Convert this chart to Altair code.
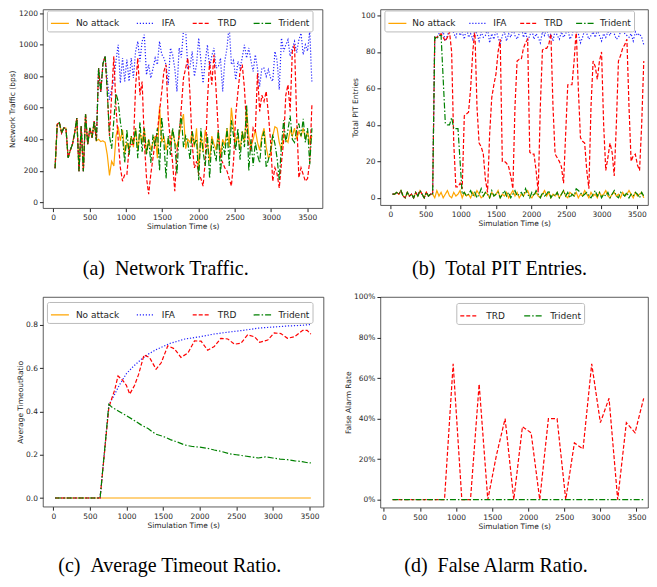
import altair as alt
import pandas as pd

SERIES = ["No attack", "IFA", "TRD", "Trident"]
COLORS = {"No attack": "#FFA500", "IFA": "#2222ff", "TRD": "#FF0000", "Trident": "#008000"}
DASHES = {"No attack": [1, 0], "IFA": [1.2, 1.8], "TRD": [4, 2], "Trident": [6, 2, 1.5, 2]}
X_TICKS = [0, 500, 1000, 1500, 2000, 2500, 3000, 3500]

# ---------------- (a) Network Traffic ----------------
a_time = list(range(25, 3566, 30))
a_common = [215, 495, 505, 440, 472, 470, 281, 330, 368, 440,
            535, 197, 482, 197, 558, 368, 472, 410, 515, 390]
a_noattack_tail = [400, 385, 390, 380, 300, 170, 260, 230, 420, 480,
                   390, 460, 310, 380, 330, 420, 350, 470, 330, 440,
                   380, 470, 310, 400, 330, 380, 420, 280, 610, 380,
                   420, 330, 400, 360, 460, 380, 350, 420, 500, 560,
                   340, 400, 380, 450, 350, 470, 210, 420, 320, 460,
                   380, 260, 420, 370, 330, 450, 280, 400, 360, 470,
                   350, 600, 470, 380, 420, 330, 450, 380, 590, 420,
                   350, 400, 460, 380, 330, 420, 470, 350, 280, 300,
                   420, 480, 470, 380, 330, 440, 400, 380, 460, 420,
                   470, 400, 450, 420, 470, 400, 450, 380, 420]
a_ifa_tail = [853, 700, 880, 930, 780, 650, 720, 768, 900, 1000,
              757, 916, 768, 906, 768, 916, 789, 958, 1022, 895,
              1022, 1064, 810, 874, 789, 850, 916, 874, 1022, 940,
              916, 874, 746, 980, 937, 850, 704, 980, 920, 1090,
              1090, 852, 860, 958, 800, 874, 1043, 900, 757, 895,
              1000, 852, 930, 980, 852, 860, 916, 704, 900, 980,
              1128, 874, 900, 778, 895, 852, 920, 1000, 916, 980,
              900, 831, 937, 850, 736, 852, 852, 800, 842, 790,
              768, 958, 900, 715, 1043, 958, 1000, 1032, 927, 980,
              1022, 950, 1032, 1074, 937, 1000, 960, 1090, 757]
a_trd_tail = [853, 700, 880, 930, 700, 420, 680, 927, 600, 400,
              218, 133, 176, 176, 345, 368, 368, 738, 916, 680,
              767, 387, 155, 50, 180, 282, 388, 450, 577, 700,
              832, 874, 535, 388, 250, 70, 324, 420, 600, 789,
              852, 916, 680, 368, 218, 260, 176, 150, 102, 260,
              641, 895, 746, 937, 704, 450, 282, 250, 218, 197,
              150, 102, 260, 556, 700, 831, 874, 725, 472, 368,
              324, 472, 450, 820, 577, 680, 641, 704, 560, 388,
              133, 218, 180, 90, 250, 388, 680, 746, 577, 958,
              1000, 535, 155, 218, 176, 133, 150, 260, 620]
a_trident_tail = [853, 700, 880, 930, 700, 420, 340, 520, 690, 640,
                  510, 420, 250, 460, 300, 420, 370, 470, 280, 510,
                  320, 470, 300, 400, 250, 430, 350, 470, 200, 540,
                  380, 150, 420, 300, 470, 380, 180, 460, 550, 350,
                  420, 380, 270, 450, 370, 400, 140, 470, 320, 230,
                  430, 150, 400, 330, 260, 460, 180, 380, 300, 470,
                  230, 520, 420, 330, 470, 270, 450, 350, 620, 200,
                  400, 230, 380, 300, 250, 400, 450, 220, 270, 330,
                  430, 370, 280, 140, 360, 520, 380, 460, 550, 400,
                  380, 460, 500, 420, 530, 380, 470, 240, 470]

# ---------------- (b) Total PIT Entries ----------------
b_time = list(range(30, 3601, 30))
b_noattack = [2, 2, 3, 2, 4, 1, 0, 3, 1, 2, 0, 3, 1, 4, 2, 0, 3, 1, 2, 2,
              0, 4, 1, 3, 0, 2, 4, 1, 0, 3, 1, 2, 4, 0, 3, 1, 2, 0, 3, 1,
              4, 2, 0, 1, 3, 2, 0, 3, 1, 2, 4, 0, 2, 1, 3, 0, 2, 4, 1, 3,
              0, 2, 1, 3, 4, 1, 0, 2, 3, 1, 0, 2, 4, 1, 3, 0, 2, 1, 3, 0,
              2, 4, 1, 0, 3, 2, 1, 3, 0, 2, 1, 4, 2, 0, 3, 1, 2, 0, 3, 1,
              2, 4, 1, 0, 2, 3, 1, 2, 0, 3, 1, 2, 4, 2, 0, 3, 1, 2, 3, 0]
b_ifa_tail = [88, 88, 90, 89, 91, 86, 89, 92, 95, 90,
              88, 93, 89, 91, 87, 94, 88, 90, 87, 92,
              90, 86, 91, 88, 89, 93, 85, 90, 87, 92,
              88, 84, 89, 91, 86, 90, 88, 93, 89, 87,
              90, 94, 88, 91, 86, 89, 92, 87, 90, 88,
              85, 91, 89, 93, 88, 90, 86, 92, 89, 87,
              91, 88, 90, 93, 87, 89, 94, 92, 90, 85,
              88, 92, 90, 87, 89, 91, 88, 92, 89, 86,
              90, 88, 91, 89, 93, 90, 87, 88, 91, 94,
              90, 89, 88, 90, 86, 91, 89, 90, 88, 84]
b_trd_tail = [88, 88, 89, 90, 88, 86, 88, 91, 80, 30,
              6, 6, 8, 5, 45, 46, 47, 60, 80, 92,
              50, 30, 28, 24, 10, 3, 35, 55, 62, 68,
              80, 87, 20, 20, 19, 17, 12, 5, 50, 75,
              76, 76, 82, 85, 87, 25, 24, 24, 15, 3,
              50, 81, 82, 82, 84, 90, 50, 24, 22, 20,
              17, 8, 35, 62, 62, 62, 75, 92, 60, 33,
              31, 30, 15, 5, 50, 75, 72, 65, 75, 80,
              40, 15, 22, 30, 25, 12, 40, 75, 78, 82,
              84, 87, 50, 20, 23, 24, 18, 15, 40, 75]
b_trident_attack = [88, 87, 89, 89, 65, 41, 40, 40, 44, 38, 38, 38, 20, 2]
b_trident_tail = [3, 1, 2, 4, 1, 3, 0, 2, 5, 1,
                  3, 2, 0, 4, 1, 2, 3, 0, 2, 4,
                  1, 3, 0, 2, 4, 1, 2, 3, 1, 5,
                  2, 0, 3, 1, 4, 2, 0, 3, 1, 2,
                  4, 0, 2, 1, 3, 0, 2, 4, 1, 3,
                  0, 2, 1, 5, 4, 3, 1, 2, 3, 1,
                  0, 2, 4, 1, 3, 0, 2, 1, 3, 0,
                  2, 4, 1, 0, 3, 2, 1, 3, 0, 2,
                  1, 3, 2, 0, 3, 1]

# ---------------- (c) Average Timeout Ratio ----------------
c_noattack_t = [25, 3520]
c_noattack_v = [0.0, 0.0]
c_ifa_t = [25, 640, 760, 840, 900, 1000, 1100, 1200, 1300, 1400,
           1500, 1600, 1800, 2000, 2200, 2400, 2600, 2800, 3000, 3200,
           3400, 3520]
c_ifa_v = [0, 0, 0.43, 0.48, 0.52, 0.575, 0.61, 0.64, 0.665, 0.685,
           0.70, 0.715, 0.735, 0.745, 0.758, 0.767, 0.775, 0.785, 0.79, 0.795,
           0.798, 0.802]
c_trd_t = [25, 640, 760, 840, 885, 950, 1000, 1045, 1110, 1165,
           1240, 1315, 1405, 1475, 1565, 1655, 1745, 1840, 1930, 2020,
           2110, 2200, 2290, 2385, 2475, 2565, 2655, 2750, 2820, 2930,
           3020, 3110, 3200, 3295, 3410, 3470, 3520]
c_trd_v = [0, 0, 0.42, 0.50, 0.564, 0.544, 0.52, 0.48, 0.52, 0.57,
           0.661, 0.65, 0.595, 0.625, 0.703, 0.69, 0.65, 0.67, 0.726, 0.725,
           0.683, 0.70, 0.738, 0.735, 0.711, 0.715, 0.754, 0.745, 0.72, 0.73,
           0.763, 0.76, 0.738, 0.745, 0.775, 0.775, 0.757]
c_trident_t = [25, 640, 760, 800, 900, 1000, 1100, 1200, 1300, 1400,
               1500, 1600, 1700, 1800, 1900, 2000, 2100, 2200, 2300, 2400,
               2500, 2600, 2700, 2800, 2900, 3000, 3100, 3200, 3300, 3400,
               3460, 3520]
c_trident_v = [0, 0, 0.433, 0.42, 0.40, 0.38, 0.36, 0.338, 0.32, 0.295,
               0.285, 0.27, 0.258, 0.245, 0.238, 0.235, 0.23, 0.222, 0.215, 0.205,
               0.20, 0.195, 0.19, 0.185, 0.19, 0.185, 0.18, 0.177, 0.172, 0.168,
               0.164, 0.162]

# ---------------- (d) False Alarm Ratio ----------------
d_time = list(range(120, 3601, 120))
d_trd = [0, 0, 0, 0, 0, 0, 0, 67, 0, 0,
         57, 0, 22, 40, 0, 36, 33, 0, 40, 40,
         0, 28, 25, 67, 38, 50, 0, 38, 33, 50]
d_trident = [0, 0, 0, 0, 0, 0, 0, 0, 0, 0,
             0, 0, 0, 0, 0, 0, 0, 0, 0, 0,
             0, 0, 0, 0, 0, 0, 0, 0, 0, 0]


def long_df(parts):
    frames = []
    for name, (t, v) in parts.items():
        frames.append(pd.DataFrame({"t": t, "v": v, "s": name}))
    return pd.concat(frames, ignore_index=True)


df_a = long_df({
    "No attack": (a_time, a_common + a_noattack_tail),
    "IFA": (a_time, a_common + a_ifa_tail),
    "TRD": (a_time, a_common + a_trd_tail),
    "Trident": (a_time, a_common + a_trident_tail),
})
b_common = b_noattack[:20]
df_b = long_df({
    "No attack": (b_time, b_noattack),
    "IFA": (b_time, b_common + b_ifa_tail),
    "TRD": (b_time, b_common + b_trd_tail),
    "Trident": (b_time, b_common + b_trident_attack + b_trident_tail),
})
df_c = long_df({
    "No attack": (c_noattack_t, c_noattack_v),
    "IFA": (c_ifa_t, c_ifa_v),
    "TRD": (c_trd_t, c_trd_v),
    "Trident": (c_trident_t, c_trident_v),
})
df_d = long_df({
    "TRD": (d_time, d_trd),
    "Trident": (d_time, d_trident),
})

TXT = "#262626"


def panel(df, order, x_dom, y_dom, y_vals, y_title, w, h, lx, ly, colpad, loff,
          caption, cap_off, y_format=None, y_expr=None):
    cscale = alt.Scale(domain=order, range=[COLORS[s] for s in order])
    dscale = alt.Scale(domain=order, range=[DASHES[s] for s in order])
    leg = alt.Legend(title=None, orient="none", legendX=lx, legendY=ly,
                     direction="horizontal", symbolType="stroke", symbolSize=324,
                     symbolStrokeWidth=1.3, labelFont="DejaVu Sans", labelFontSize=9,
                     labelColor=TXT, labelOffset=loff, columnPadding=colpad, padding=3,
                     strokeColor="#bbbbbb", fillColor="white", cornerRadius=2)
    yaxis_kw = dict(values=y_vals, title=y_title)
    if y_format:
        yaxis_kw["format"] = y_format
    if y_expr:
        yaxis_kw["labelExpr"] = y_expr
    layers = []
    for s in order:
        layers.append(
            alt.Chart(df).transform_filter(alt.datum.s == s)
            .mark_line(strokeWidth=1.2, clip=True)
            .encode(
                x=alt.X("t:Q", scale=alt.Scale(domain=x_dom, nice=False, zero=False),
                        axis=alt.Axis(values=X_TICKS, title="Simulation Time (s)", format="d")),
                y=alt.Y("v:Q", scale=alt.Scale(domain=y_dom, nice=False, zero=False),
                        axis=alt.Axis(**yaxis_kw)),
                color=alt.Color("s:N", scale=cscale, legend=leg),
                strokeDash=alt.StrokeDash("s:N", scale=dscale, legend=leg),
            )
        )
    return alt.layer(*layers).properties(
        width=w, height=h,
        title=alt.TitleParams(caption, orient="bottom", frame="bounds", anchor="middle",
                              offset=cap_off, font="Liberation Serif", fontSize=20,
                              fontWeight="normal", color="black"),
    )


pa = panel(df_a, SERIES, [-142, 3711], [-38, 1225], [0, 200, 400, 600, 800, 1000, 1200],
           "Network Traffic (bps)", 280, 199, 4, 1, 14, 6,
           "(a)\u2002Network Traffic.", 29, y_format="d")
pb = panel(df_b, SERIES, [-142, 3660], [-4, 103.3], [0, 20, 40, 60, 80, 100],
           "Total PIT Entries", 268, 196, 4, 1, 10, 5,
           "(b)\u2002Total PIT Entries.", 32, y_format="d")
pc = panel(df_c, SERIES, [-141, 3693], [-0.040, 0.929], [0.0, 0.2, 0.4, 0.6, 0.8],
           "Average TimeoutRatio", 281, 210, 4, 5, 14, 6,
           "(c)\u2002Average Timeout Ratio.", 27, y_format=".1f")
pd_ = panel(df_d, ["TRD", "Trident"], [-48, 3660], [-3.95, 100], [0, 20, 40, 60, 80, 100],
            "False Alarm Rate", 268, 211, 76, 6, 16, 7,
            "(d)\u2002False Alarm Ratio.", 26, y_expr="datum.value + '%'")

chart = alt.concat(pa, pb, pc, pd_, columns=2, spacing={"row": 77, "column": 57},
                   bounds="flush", align="all").resolve_scale(
    color="independent", strokeDash="independent"
).resolve_legend(
    color="independent", strokeDash="independent"
).properties(
    padding={"left": 0, "top": 0, "right": 0, "bottom": 0}
).configure_axis(
    labelFont="DejaVu Sans", labelFontSize=7.5, titleFont="DejaVu Sans", titleFontSize=7.5,
    titleFontWeight="normal", labelColor=TXT, titleColor=TXT, tickColor=TXT,
    tickSize=3.5, labelPadding=2, titlePadding=1.5, grid=False, domain=False
).configure_view(stroke="#333333", strokeWidth=0.8)

chart.save("out.html", embed_options={"renderer": "svg", "actions": False})
